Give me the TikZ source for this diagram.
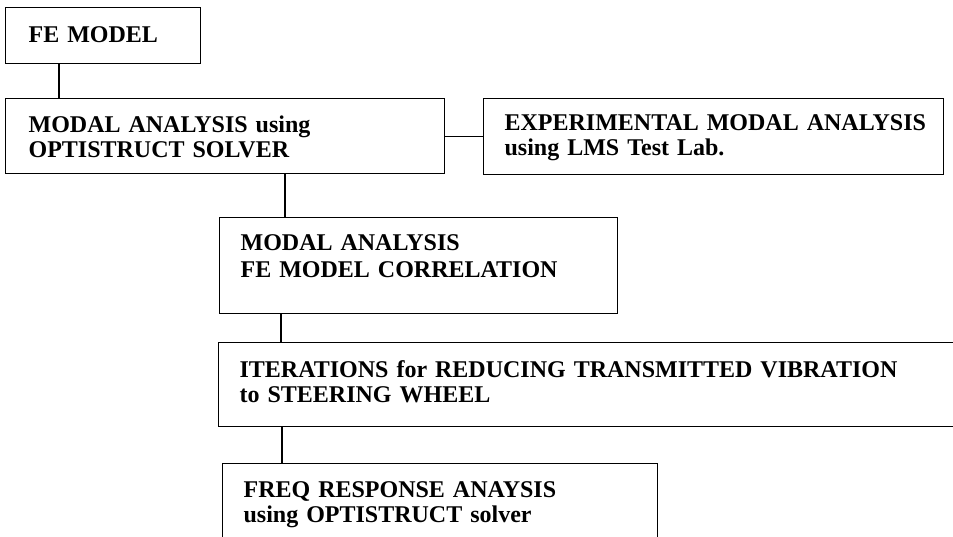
\documentclass[tikz,border=0pt]{standalone}
\usepackage{fontspec}
\setmainfont{Liberation Serif}
\tikzset{
  stage/.style={draw, line width=1.2pt, anchor=north west, align=left, inner ysep=0pt,
    font=\bfseries\fontsize{24}{25}\selectfont},
  link/.style={line width=1.2pt}
}
\begin{document}
\begin{tikzpicture}[x=1pt,y=-1pt]
\useasboundingbox (0,0) rectangle (953,536);
\clip (0,0) rectangle (953,536);
\node[stage, inner xsep=23pt, text width=149pt, text height=35pt, text depth=21pt] (fe) at (5,7) {FE MODEL};
\node[stage, inner xsep=23pt, text width=393pt, text height=34pt, text depth=41pt] (modal) at (5,98) {MODAL ANALYSIS using\\OPTISTRUCT SOLVER};
\node[stage, inner xsep=21pt, text width=418pt, text height=32pt, text depth=44pt] (exp) at (483,98) {\mbox{EXPERIMENTAL MODAL ANALYSIS}\\using LMS Test Lab.};
\node[stage, inner xsep=21pt, text width=356pt, text height=33pt, text depth=63pt] (corr) at (219,217) {MODAL ANALYSIS\\[2pt]FE MODEL CORRELATION};
\node[stage, inner xsep=21pt, text width=720pt, text height=35pt, text depth=49pt] (iter) at (218,342) {ITERATIONS for REDUCING TRANSMITTED VIBRATION\\to STEERING WHEEL};
\node[stage, inner xsep=21pt, text width=393pt, text height=34pt, text depth=63pt] (freq) at (222,463) {FREQ RESPONSE ANAYSIS\\using OPTISTRUCT solver};
% connectors
\draw[link] ([xshift=54pt]fe.south west) -- ([xshift=54pt]fe.south west |- modal.north);
\draw[link] (modal.east) -- (modal.east -| exp.west);
\draw[link] ([xshift=66pt]corr.north west |- modal.south) -- ([xshift=66pt]corr.north west);
\draw[link] ([xshift=63pt]iter.north west |- corr.south) -- ([xshift=63pt]iter.north west);
\draw[link] ([xshift=60pt]freq.north west |- iter.south) -- ([xshift=60pt]freq.north west);
\end{tikzpicture}
\end{document}
